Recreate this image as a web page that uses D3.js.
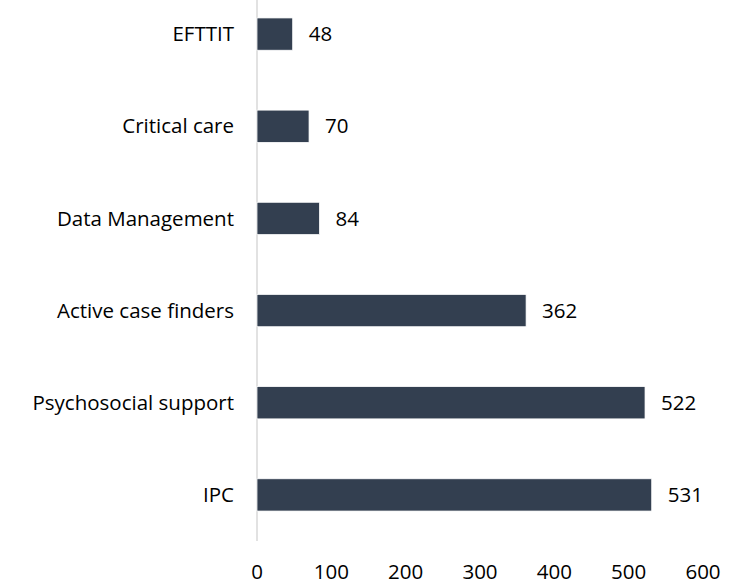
<!DOCTYPE html>
<html>
<head>
<meta charset="utf-8">
<script src="https://cdn.jsdelivr.net/npm/d3@7"></script>
<style>
    body { margin: 0; background: #fff; }
    text { font-family: "Open Sans", sans-serif; fill: #000; }
</style>
</head>
<body>
<svg id="chart" width="752" height="585"></svg>
<script>
var categories = ['EFTTIT', 'Critical care', 'Data Management', 'Active case finders', 'Psychosocial support', 'IPC'];
var values = [48, 70, 84, 362, 522, 531];
var ticks = [0, 100, 200, 300, 400, 500, 600];

var svg = d3.select('#chart');
var fontSize = 20.5;

var x = d3.scaleLinear().domain([0, 600]).range([257, 703]);
var y = d3.scaleBand().domain(categories).range([-12, 541]).paddingInner(0.65).paddingOuter(0.325);

// vertical axis line
svg.append('line')
    .attr('x1', x(0)).attr('x2', x(0))
    .attr('y1', 0).attr('y2', 541)
    .attr('stroke', '#d9d9d9')
    .attr('stroke-width', 1.5);

svg.append('g')
    .selectAll('rect')
    .data(values)
    .join('rect')
    .attr('x', x(0))
    .attr('y', function(d, i) { return y(categories[i]); })
    .attr('width', function(d) { return x(d) - x(0); })
    .attr('height', y.bandwidth())
    .attr('fill', '#333f50')
    .attr('stroke', '#fff')
    .attr('stroke-width', 0.75);

// value labels
svg.append('g')
    .selectAll('text')
    .data(values)
    .join('text')
    .attr('x', function(d) { return x(d) + 16; })
    .attr('y', function(d, i) { return y(categories[i]) + y.bandwidth() / 2; })
    .attr('dy', '0.35em')
    .style('font-size', fontSize + 'px')
    .text(function(d) { return d; });

// category labels
svg.append('g')
    .selectAll('text')
    .data(categories)
    .join('text')
    .attr('x', 234)
    .attr('y', function(d) { return y(d) + y.bandwidth() / 2; })
    .attr('dy', '0.35em')
    .attr('text-anchor', 'end')
    .style('font-size', fontSize + 'px')
    .text(function(d) { return d; });

// x tick labels
svg.append('g')
    .selectAll('text')
    .data(ticks)
    .join('text')
    .attr('x', function(d) { return x(d); })
    .attr('y', 572)
    .attr('dy', '0.35em')
    .attr('text-anchor', 'middle')
    .style('font-size', fontSize + 'px')
    .text(function(d) { return d; });
</script>
</body>
</html>
